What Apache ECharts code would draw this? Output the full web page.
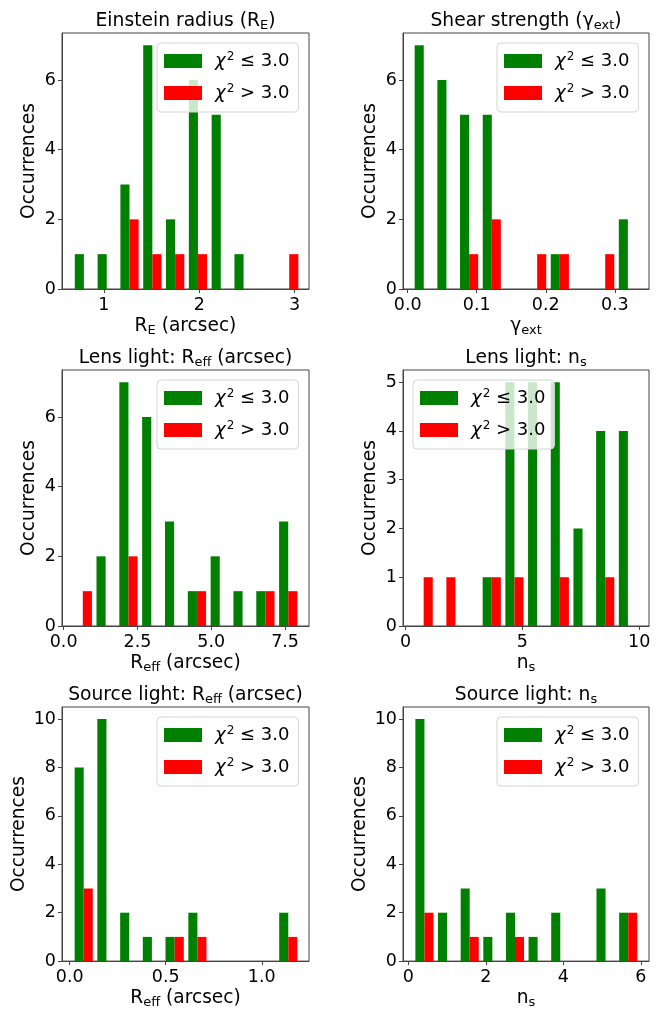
<!DOCTYPE html>
<html><head><meta charset="utf-8">
<script src="https://cdn.jsdelivr.net/npm/echarts@6/dist/echarts.min.js"></script>
<style>html,body{margin:0;padding:0;background:#fff}#c{width:665px;height:1010px}</style>
</head><body><div id="c"></div>
<script>
const seriesNames = ['χ2 ≤ 3.0', 'χ2 > 3.0'];
const seriesColors = ['#008000', '#ff0000'];

// Einstein radius
const einsteinEdges = [0.672, 0.911, 1.150, 1.389, 1.628, 1.867, 2.106, 2.345, 2.584, 2.823, 3.062];
const einsteinGood = [1, 1, 3, 7, 2, 6, 5, 1, 0, 0];
const einsteinBad  = [0, 0, 2, 1, 1, 1, 0, 0, 0, 1];
const einsteinXTicks = [1, 2, 3];
const einsteinXLabels = ['1', '2', '3'];
const einsteinXRange = [0.562, 3.15];

// Shear strength
const shearEdges = [0.0068, 0.0397, 0.0725, 0.1054, 0.1382, 0.1711, 0.2039, 0.2368, 0.2696, 0.3025, 0.3353];
const shearGood = [7, 6, 5, 5, 0, 0, 1, 0, 0, 2];
const shearBad  = [0, 0, 1, 2, 0, 1, 1, 0, 1, 0];
const shearXTicks = [0, 0.1, 0.2, 0.3];
const shearXLabels = ['0.0', '0.1', '0.2', '0.3'];
const shearXRange = [-0.0068, 0.3495];

// Lens light Reff
const lensReffEdges = [0.263, 1.036, 1.809, 2.582, 3.355, 4.128, 4.901, 5.674, 6.447, 7.220, 7.993];
const lensReffGood = [0, 2, 7, 6, 3, 1, 2, 1, 1, 3];
const lensReffBad  = [1, 0, 2, 0, 0, 1, 0, 0, 1, 1];
const lensReffXTicks = [0, 2.5, 5, 7.5];
const lensReffXLabels = ['0.0', '2.5', '5.0', '7.5'];
const lensReffXRange = [-0.055, 8.31];

// Lens light ns
const lensNsEdges = [0.289, 1.260, 2.232, 3.203, 4.175, 5.146, 6.117, 7.089, 8.060, 9.032, 10.003];
const lensNsGood = [0, 0, 0, 1, 5, 5, 5, 2, 4, 4];
const lensNsBad  = [1, 1, 0, 1, 1, 0, 1, 0, 1, 0];
const lensNsXTicks = [0, 5, 10];
const lensNsXLabels = ['0', '5', '10'];
const lensNsXRange = [-0.11, 10.42];

// Source light Reff
const srcReffEdges = [0.014, 0.132, 0.251, 0.369, 0.487, 0.606, 0.724, 0.842, 0.961, 1.079, 1.197];
const srcReffGood = [8, 10, 2, 1, 1, 2, 0, 0, 0, 2];
const srcReffBad  = [3, 0, 0, 0, 1, 1, 0, 0, 0, 1];
const srcReffXTicks = [0, 0.5, 1.0];
const srcReffXLabels = ['0.0', '0.5', '1.0'];
const srcReffXRange = [-0.04, 1.246];

// Source light ns
const srcNsEdges = [0.121, 0.705, 1.290, 1.874, 2.459, 3.043, 3.627, 4.212, 4.796, 5.381, 5.965];
const srcNsGood = [10, 2, 3, 1, 2, 1, 2, 0, 3, 2];
const srcNsBad  = [2, 0, 1, 0, 1, 0, 0, 0, 0, 2];
const srcNsXTicks = [0, 2, 4, 6];
const srcNsXLabels = ['0', '2', '4', '6'];
const srcNsXRange = [-0.14, 6.21];

const yTicks7 = [0, 2, 4, 6];
const yTicks5 = [0, 1, 2, 3, 4, 5];
const yTicks10 = [0, 2, 4, 6, 8, 10];
const yMaxes = [7.35, 7.35, 7.35, 5.25, 10.5, 10.5];

const titles = ['Einstein radius (R{s|E})', 'Shear strength (γ{s|ext})', 'Lens light: R{s|eff} (arcsec)',
                'Lens light: n{s|s}', 'Source light: R{s|eff} (arcsec)', 'Source light: n{s|s}'];
const xNames = ['R{s|E} (arcsec)', 'γ{s|ext}', 'R{s|eff} (arcsec)', 'n{s|s}', 'R{s|eff} (arcsec)', 'n{s|s}'];

const FONT = 'DejaVu Sans';
const panels = [
  {edges: einsteinEdges, good: einsteinGood, bad: einsteinBad, xt: einsteinXTicks, xl: einsteinXLabels, xr: einsteinXRange, yt: yTicks7},
  {edges: shearEdges, good: shearGood, bad: shearBad, xt: shearXTicks, xl: shearXLabels, xr: shearXRange, yt: yTicks7},
  {edges: lensReffEdges, good: lensReffGood, bad: lensReffBad, xt: lensReffXTicks, xl: lensReffXLabels, xr: lensReffXRange, yt: yTicks7},
  {edges: lensNsEdges, good: lensNsGood, bad: lensNsBad, xt: lensNsXTicks, xl: lensNsXLabels, xr: lensNsXRange, yt: yTicks5},
  {edges: srcReffEdges, good: srcReffGood, bad: srcReffBad, xt: srcReffXTicks, xl: srcReffXLabels, xr: srcReffXRange, yt: yTicks10},
  {edges: srcNsEdges, good: srcNsGood, bad: srcNsBad, xt: srcNsXTicks, xl: srcNsXLabels, xr: srcNsXRange, yt: yTicks10}
];

// layout
const colLeft = [62, 403], colWidth = [247, 246];
const rowTop = [33, 370, 707], rowHeight = 256;
const legendPos = [[157, 43], [497, 43], [157, 380], [413, 380], [157, 717], [497, 717]];

const subRich = {
  s: {fontSize: 13, lineHeight: 13, verticalAlign: 'bottom', fontFamily: FONT, color: '#000'}
};

const grids = [], xAxes = [], yAxes = [], series = [], titleOpts = [], legends = [];
panels.forEach((p, i) => {
  const col = i % 2, row = Math.floor(i / 2);
  const g = {left: colLeft[col], top: rowTop[row], width: colWidth[col], height: rowHeight,
             show: true, borderColor: '#444', borderWidth: 1, backgroundColor: 'transparent', containLabel: false};
  grids.push(g);
  const xt = p.xt, xl = p.xl;
  xAxes.push({
    type: 'value', gridIndex: i, min: p.xr[0], max: p.xr[1], z: 5,
    name: xNames[i], nameLocation: 'middle', nameGap: 22,
    nameTextStyle: {fontSize: 18.6, fontFamily: FONT, color: '#000', lineHeight: 22, rich: subRich},
    axisLine: {show: true, onZero: false, lineStyle: {color: '#444', width: 1}},
    axisTick: {show: true, length: 4, lineStyle: {color: '#444'}, customValues: xt},
    axisLabel: {show: true, margin: 7, fontSize: 17.5, fontFamily: FONT, color: '#000', customValues: xt,
      formatter: v => { const k = xt.findIndex(t => Math.abs(t - v) < 1e-9); return k >= 0 ? xl[k] : ''; }},
    splitLine: {show: false}
  });
  yAxes.push({
    type: 'value', gridIndex: i, min: 0, max: yMaxes[i], z: 5,
    name: 'Occurrences', nameLocation: 'middle', nameGap: 22, nameRotate: 90,
    nameTextStyle: {fontSize: 18.6, fontFamily: FONT, color: '#000', lineHeight: 22},
    axisLine: {show: true, onZero: false, lineStyle: {color: '#444', width: 1}},
    axisTick: {show: true, length: 4, lineStyle: {color: '#444'}, customValues: p.yt},
    axisLabel: {show: true, margin: 6, fontSize: 17.5, fontFamily: FONT, color: '#000', customValues: p.yt},
    splitLine: {show: false}
  });
  [p.good, p.bad].forEach((counts, k) => {
    const data = counts.map((c, b) => {
      const e0 = p.edges[b], w = p.edges[b + 1] - e0;
      // matplotlib side-by-side histogram layout: 80% of bin, split between 2 datasets
      return [e0 + w * (0.1 + 0.4 * k), e0 + w * (0.5 + 0.4 * k), c];
    });
    series.push({
      type: 'custom', name: seriesNames[k], xAxisIndex: i, yAxisIndex: i,
      itemStyle: {color: seriesColors[k]}, silent: true, clip: true,
      encode: {x: [0, 1], y: 2},
      data: data,
      renderItem: (params, api) => {
        const pTop = api.coord([api.value(0), api.value(2)]);
        const pBot = api.coord([api.value(1), 0]);
        return {type: 'rect', shape: {x: pTop[0], y: pTop[1], width: pBot[0] - pTop[0], height: pBot[1] - pTop[1]},
                style: {fill: seriesColors[k]}};
      }
    });
  });
  titleOpts.push({
    text: titles[i], left: g.left + g.width / 2, top: g.top - 23, textAlign: 'center', padding: 0,
    textStyle: {fontSize: 18.7, fontWeight: 'normal', fontFamily: FONT, color: '#000', lineHeight: 22, rich: subRich}
  });
  legends.push({
    left: legendPos[i][0], top: legendPos[i][1], orient: 'vertical', data: seriesNames,
    icon: 'rect', itemWidth: 38, itemHeight: 14, itemGap: 12, padding: [8, 9, 9, 7],
    backgroundColor: 'rgba(255,255,255,0.8)', borderColor: '#d4d4d4', borderWidth: 1, borderRadius: 4,
    selectedMode: false,
    textStyle: {fontSize: 18, fontFamily: FONT, color: '#000', lineHeight: 20,
      rich: {i: {fontSize: 18, fontStyle: 'italic', fontFamily: FONT, color: '#000', lineHeight: 20, padding: [0, 1, 0, 8]},
             p: {fontSize: 12, fontFamily: FONT, color: '#000', lineHeight: 12, verticalAlign: 'top'},
             t: {fontSize: 18, fontFamily: FONT, color: '#000', lineHeight: 20}}},
    formatter: n => '{i|' + n.charAt(0) + '}{p|' + n.charAt(1) + '}{t|' + n.slice(2) + '}'
  });
});

const chart = echarts.init(document.getElementById('c'), null, {renderer: 'canvas'});
chart.setOption({
  animation: false,
  backgroundColor: '#fff',
  title: titleOpts,
  legend: legends,
  grid: grids,
  xAxis: xAxes,
  yAxis: yAxes,
  series: series
});
</script></body></html>
